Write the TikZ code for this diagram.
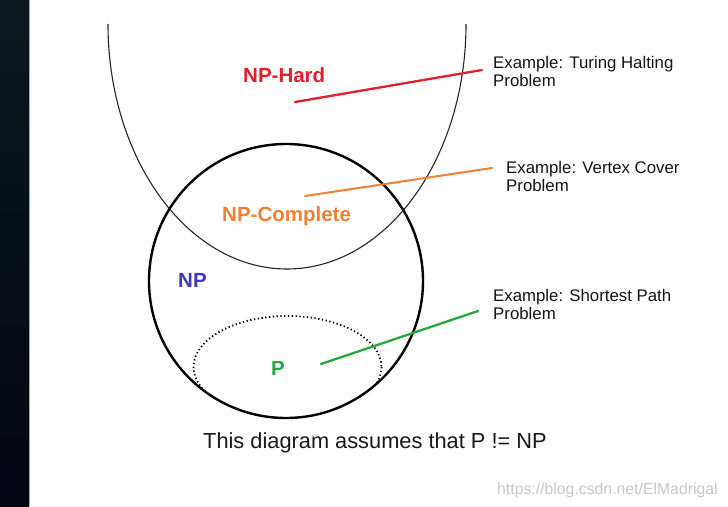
\documentclass[tikz,border=0pt]{standalone}
\usepackage{fontspec}
\setmainfont{Liberation Sans}
\definecolor{hardred}{RGB}{226,32,44}
\definecolor{comporange}{RGB}{240,128,52}
\definecolor{npblue}{RGB}{58,58,196}
\definecolor{pgreen}{RGB}{36,168,64}
\definecolor{stripdark}{RGB}{4,6,18}
\definecolor{striptop}{RGB}{10,24,30}
\begin{document}
\begin{tikzpicture}[x=1pt,y=-1pt,
  lab/.style={font=\fontsize{20.5}{24}\selectfont\bfseries, inner sep=0pt, anchor=base west},
  ex/.style={font=\fontsize{16.8}{18}\selectfont, text=black!92, inner sep=0pt, anchor=base west, align=left},
  pointer/.style={line width=2.3pt, line cap=round}]
\fill[white] (0,0) rectangle (728,506);
\useasboundingbox (0,0) rectangle (728,506);
\shade[top color=striptop, bottom color=stripdark] (0,0) rectangle (29,506);
\draw[gray!70, line width=0.8pt] (29.4,0) -- (29.4,506);

% NP-Hard region (open U-shaped curve)
\draw[line width=1.1pt, black!85] (108,24) arc[start angle=180, end angle=0, x radius=179, y radius=245];

% P region (dotted), kept inside the NP circle
\begin{scope}
\clip (286,281) circle[radius=137.5];
\draw[line width=1.8pt, dash pattern=on 1.3pt off 2.5pt] (287.5,367) ellipse[x radius=94, y radius=51];
\end{scope}

% NP region
\draw[line width=2.4pt] (286,281) circle[radius=137];

% labels
\node[lab, text=hardred] (nphard) at (243,82) {NP-Hard};
\node[lab, text=comporange] (npc) at (222,221) {NP-Complete};
\node[lab, text=npblue] (np) at (178,287) {NP};
\node[lab, text=pgreen] (p) at (271,375) {P};

% examples (anchor at baseline of the last line)
\node[ex] (exhard) at (493,86) {Example: Turing Halting\\Problem};
\node[ex] (excomp) at (506,191) {Example: Vertex Cover\\Problem};
\node[ex] (exp) at (493,319) {Example: Shortest Path\\Problem};

% pointer lines
\coordinate (h1) at (295,102);
\coordinate (h2) at (482,70);
\coordinate (c1) at (305,196);
\coordinate (c2) at (492,168);
\coordinate (g1) at (321,364);
\coordinate (g2) at (478,311);
\draw[pointer, hardred] (h1) -- (h2);
\draw[pointer, comporange, line width=2pt] (c1) -- (c2);
\draw[pointer, pgreen] (g1) -- (g2);

% caption and watermark
\node[font=\fontsize{21.8}{24}\selectfont, text=black!90, inner sep=0pt, anchor=base west] (cap) at (203,448) {This diagram assumes that P != NP};
\node[font=\fontsize{15.8}{18}\selectfont, text=black!22, inner sep=0pt, anchor=base west] (wm) at (497,494) {https://blog.csdn.net/ElMadrigal};
\end{tikzpicture}
\end{document}
